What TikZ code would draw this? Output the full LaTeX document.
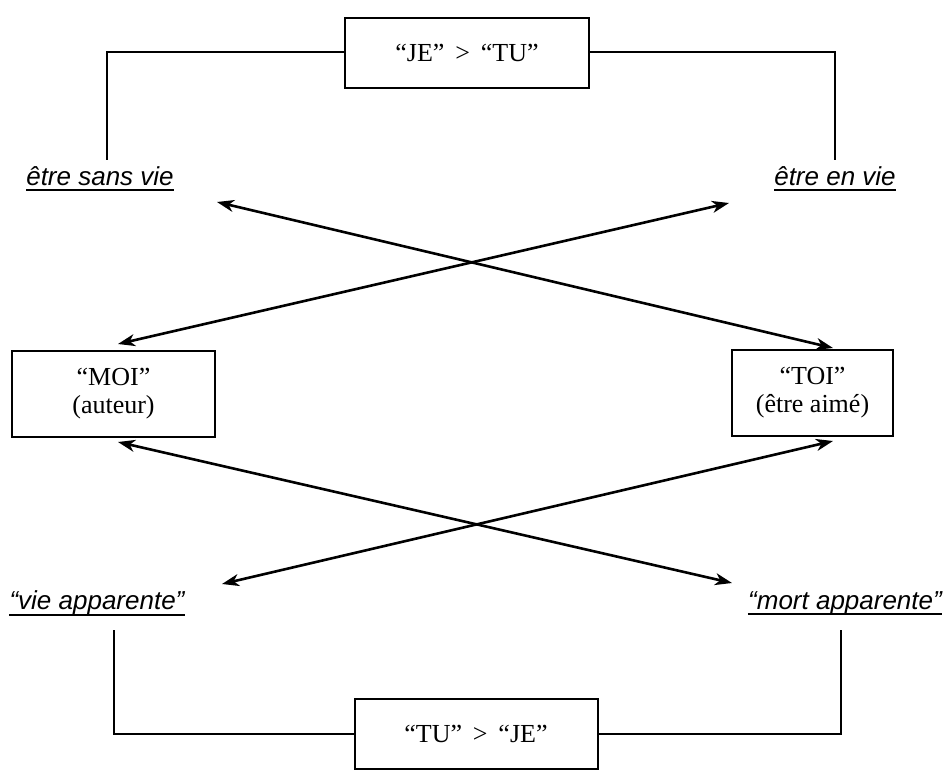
\documentclass[tikz,border=0pt]{standalone}
\usepackage{fontspec}
\setmainfont{Liberation Serif}
\newfontfamily\lblfont{Liberation Sans}
\usetikzlibrary{arrows.meta}
\tikzset{
  boxnode/.style={draw, line width=2pt, inner sep=0pt, font=\fontsize{26}{30}\selectfont, align=center},
  lbl/.style={inner sep=0pt, font=\lblfont\itshape\fontsize{26}{30}\selectfont},
  uline/.style={line width=1.8pt},
  conn/.style={line width=1.6pt},
  arr/.style={line width=2.6pt, {Stealth[length=17pt,width=12pt,inset=5pt]}-{Stealth[length=17pt,width=12pt,inset=5pt]}}
}
\begin{document}
\begin{tikzpicture}[x=1pt,y=-1pt]
\useasboundingbox (0,0) rectangle (945,771);
% boxes
\node[boxnode, minimum width=244pt, minimum height=70pt] (je) at (467,53) {“JE” \,>\, “TU”};
\node[boxnode, minimum width=203pt, minimum height=86pt] (moi) at (113.5,393.5) {“MOI”\\[-2pt](auteur)};
\node[boxnode, minimum width=161pt, minimum height=86pt] (toi) at (812.5,393) {“TOI”\\[-2pt](être aimé)};
\node[boxnode, minimum width=243pt, minimum height=70pt] (tu) at (476,734) {“TU” \,>\, “JE”};
% labels
\node[lbl] (esv) at (100,176) {être sans vie};
\node[lbl] (eev) at (835,176) {être en vie};
\node[lbl] (va) at (97,603) {“vie apparente”};
\node[lbl] (ma) at (845,603) {“mort apparente”};
\foreach \n in {esv,eev,va,ma}
  \draw[uline] ([yshift=-5pt]\n.base west) -- ([yshift=-5pt]\n.base east);
% connector corners
\coordinate (c1) at (107,52);
\coordinate (c1b) at (107,160);
\coordinate (c2) at (835,52);
\coordinate (c2b) at (835,160);
\coordinate (c3) at (114,630);
\coordinate (c3b) at (114,734);
\coordinate (c4) at (841,630);
\coordinate (c4b) at (841,734);
\draw[conn] (je.west |- c1) -- (c1) -- (c1b);
\draw[conn] (je.east |- c2) -- (c2) -- (c2b);
\draw[conn] (c3) -- (c3b) -- (tu.west |- c3b);
\draw[conn] (c4) -- (c4b) -- (tu.east |- c4b);
% arrow ends
\coordinate (a1) at (217,202);
\coordinate (a2) at (833,348);
\coordinate (b1) at (729,203);
\coordinate (b2) at (118,344);
\coordinate (d1) at (118,442);
\coordinate (d2) at (732,583);
\coordinate (e1) at (222,584);
\coordinate (e2) at (833,441);
\draw[arr] (a1) -- (a2);
\draw[arr] (b1) -- (b2);
\draw[arr] (d1) -- (d2);
\draw[arr] (e1) -- (e2);
\end{tikzpicture}
\end{document}
